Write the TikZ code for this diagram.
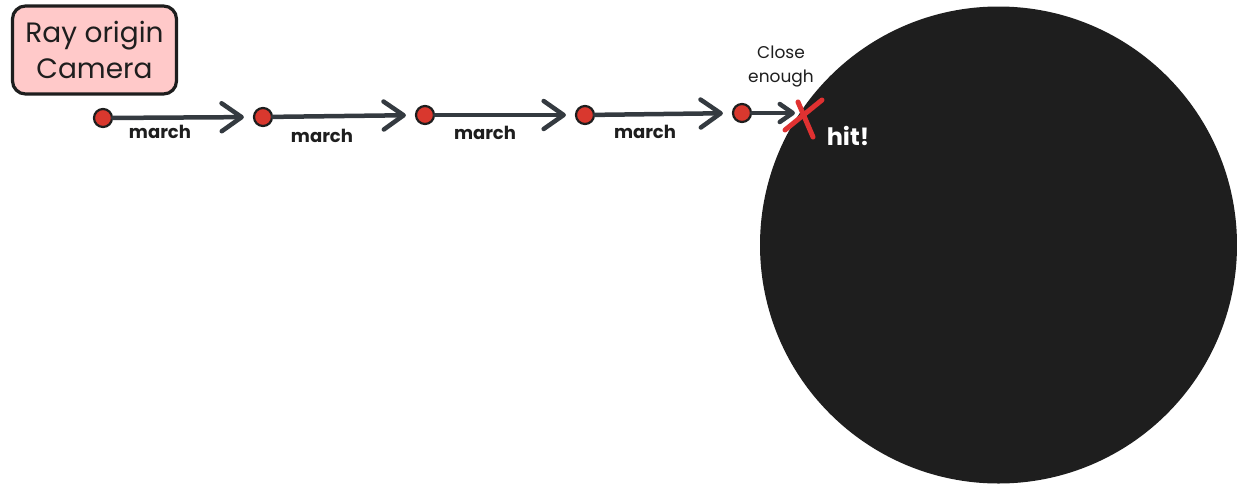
\documentclass[tikz,border=0pt]{standalone}
\usepackage{fontspec}
\setmainfont{Poppins}
\usetikzlibrary{arrows.meta}
\definecolor{ink}{HTML}{1E1E1E}
\definecolor{slate}{HTML}{343A40}
\definecolor{rosefill}{HTML}{FFC9C9}
\definecolor{hitred}{HTML}{E03131}
\definecolor{dotred}{HTML}{D9382E}
\tikzset{
  dot/.style={circle, draw=ink, line width=2.2pt, fill=dotred, inner sep=0pt, minimum size=18pt},
  marchstep/.style={draw=slate, line width=4.5pt, line cap=round,
    -{Straight Barb[length=20pt,width=28pt,round]}, shorten >=9pt},
  shortstep/.style={draw=slate, line width=4.5pt, line cap=round,
    -{Straight Barb[length=13pt,width=18pt,round]}},
  marchlabel/.style={font=\fontsize{18}{21}\selectfont\bfseries, text=ink, inner sep=0pt},
  crossmark/.style={draw=hitred, line width=5pt, line cap=round},
}
\begin{document}
\begin{tikzpicture}[x=1pt,y=-1pt]
  \useasboundingbox (0,0) rectangle (1237,485);

  % the sphere being traced
  \node[circle, fill=ink, inner sep=0pt, minimum size=477pt] (sphere) at (998.5,245) {};

  % camera box
  \node[draw=ink, line width=3.2pt, fill=rosefill, rounded corners=13pt,
        minimum width=164pt, minimum height=88pt, align=center, inner sep=0pt,
        font=\fontsize{28}{36}\selectfont, text=ink] (cam) at (94.5,50)
        {Ray origin\\Camera};

  % sample points along the ray
  \node[dot] (p1) at (103,118) {};
  \node[dot] (p2) at (263,117) {};
  \node[dot] (p3) at (425,115) {};
  \node[dot] (p4) at (585,115) {};
  \node[dot] (p5) at (742,113) {};
  \coordinate (hit) at (804,117);
  \coordinate (near) at (795,113);

  % steps
  \draw[marchstep] (p1) -- (p2);
  \draw[marchstep] (p2) -- (p3);
  \draw[marchstep] (p3) -- (p4);
  \draw[marchstep] (p4) -- (p5);
  \draw[shortstep] (p5) -- (near);

  \node[marchlabel] (m1) at (160,132) {march};
  \node[marchlabel] (m2) at (322,136) {march};
  \node[marchlabel] (m3) at (485,133) {march};
  \node[marchlabel] (m4) at (645,132) {march};

  % hit marker
  \draw[crossmark] ([shift={(-19,13)}]hit) -- ([shift={(18,-17)}]hit);
  \draw[crossmark] ([shift={(-6,-15)}]hit) -- ([shift={(9,20)}]hit);

  \node[font=\fontsize{17}{24}\selectfont, text=ink, align=center, inner sep=0pt] (close) at (781,67) {Close\\enough};
  \node[font=\fontsize{24}{26}\selectfont\bfseries, text=white, inner sep=0pt] (hitlabel) at (848,136) {hit!};
\end{tikzpicture}
\end{document}
